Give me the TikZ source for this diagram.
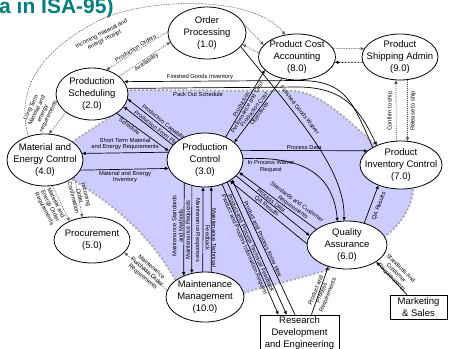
\documentclass[tikz,border=0pt]{standalone}
\usepackage{fontspec}
\setmainfont{Liberation Sans}
\usetikzlibrary{arrows.meta,shapes.geometric}
\pgfdeclarelayer{bg}
\pgfdeclarelayer{mid}
\pgfsetlayers{bg,mid,main}
\definecolor{lav}{RGB}{204,204,255}
\definecolor{teal1}{RGB}{0,128,128}
\begin{document}
\begin{tikzpicture}[x=1pt,y=-1pt,
  ell/.style={ellipse, draw, fill=white, line width=0.8pt, inner sep=0pt},
  etxt/.style={align=center, font=\fontsize{9.5}{12}\selectfont, inner sep=0pt},
  boxn/.style={rectangle, draw, fill=white, line width=0.8pt, inner sep=0pt, align=center, font=\fontsize{9.5}{12}\selectfont},
  lab/.style={font=\fontsize{5.8}{6.5}\selectfont, inner sep=0.6pt, align=center},
  arr/.style={line width=0.7pt, -{Triangle[length=3.5pt,width=3pt]}},
  darr/.style={line width=0.5pt, draw=black!65, dash pattern=on 1.5pt off 1pt, -{Triangle[length=3.5pt,width=3pt]}},
  darrk/.style={line width=0.9pt, draw=black, dash pattern=on 2pt off 1.2pt, -{Triangle[length=3.5pt,width=3pt]}},
  darrd/.style={line width=0.6pt, draw=black!70, dash pattern=on 1pt off 1pt, -{Triangle[length=3.5pt,width=3pt]}},
  border/.style={draw=gray!65, line width=2pt, dash pattern=on 2pt off 2pt}
]
\useasboundingbox (0,0) rectangle (449,348);

% title fragment (cut off by the page edge)
\node[font=\fontsize{21}{21}\selectfont\bfseries, text=teal1, anchor=base west, inner sep=0pt] (title) at (-1,13) {a in ISA-95)};

% nodes
\node[ell, minimum width=78pt, minimum height=52pt] (op) at (207,33) {};
\node[etxt] (opt) at (op.center) {Order\\Processing\\(1.0)};
\node[ell, minimum width=77pt, minimum height=46pt] (pca) at (297,57) {};
\node[etxt] (pcat) at (pca.center) {Product Cost\\Accounting\\(8.0)};
\node[ell, minimum width=76pt, minimum height=46pt] (psa) at (400,57) {};
\node[etxt] (psat) at (psa.center) {Product\\Shipping Admin\\(9.0)};
\node[ell, minimum width=72pt, minimum height=52pt] (sched) at (92,94) {};
\node[etxt] (schedt) at (sched.center) {Production\\Scheduling\\(2.0)};
\node[ell, minimum width=76pt, minimum height=52pt] (mec) at (45,160) {};
\node[etxt] (mect) at (mec.center) {Material and\\Energy Control\\(4.0)};
\node[ell, minimum width=76pt, minimum height=54pt] (pc) at (205,160) {};
\node[etxt] (pct) at (pc.center) {Production\\Control\\(3.0)};
\node[ell, minimum width=82pt, minimum height=48pt] (pic) at (401,165) {};
\node[etxt] (pict) at (pic.center) {Product\\Inventory Control\\(7.0)};
\node[ell, minimum width=76pt, minimum height=46pt] (proc) at (92,240) {};
\node[etxt] (proct) at (proc.center) {Procurement\\(5.0)};
\node[ell, minimum width=80pt, minimum height=48pt] (qa) at (347,245) {};
\node[etxt] (qat) at (qa.center) {Quality\\Assurance\\(6.0)};
\node[ell, minimum width=78pt, minimum height=50pt] (mm) at (205,297) {};
\node[etxt] (mmt) at (mm.center) {Maintenance\\Management\\(10.0)};
\node[boxn, minimum width=79pt, minimum height=36pt] (rd) at (299.5,333) {Research\\Development\\and Engineering};
\node[boxn, minimum width=57pt, minimum height=24pt] (ms) at (418.5,307) {Marketing\\\& Sales};

% shaded production-control domain
\begin{pgfonlayer}{bg}
\path[fill=lav, border] (126,90) -- (295,91) .. controls (330,95) and (360,135) .. (405,170)
  .. controls (425,185) and (405,225) .. (382,238) -- (328,270) -- (243,293) -- (176,281)
  .. controls (150,235) and (115,205) .. (70,178) -- (72,142) -- (118,112) -- cycle;
\end{pgfonlayer}

\begin{pgfonlayer}{mid}
% dashed flows
\draw[darr] (mec.125) .. controls (15,90) and (40,50) .. (100,20) .. controls (140,0) and (250,-8) .. (pca.118);
\draw[darr] (op.178) -- (sched.59) node[lab, sloped, above, midway] {Production Orders};
\draw[darr] (sched.33) -- (op.194) node[lab, sloped, below, midway] {Availability};
\draw[darr] (op.12) -- (pca.160);
\draw[darr] (pca.174) -- (op.-18);
\draw[darr] (pca.13) -- (psa.167);
\draw[darrk] (psa.188) -- (pca.-8);
\draw[darrd] (pic.101) -- (psa.260);
\draw[darrd] (psa.-72) -- (pic.75);
\draw[darr] (sched.215) -- (mec.81);
\draw[darr] (mec.-74) -- (proc.140);
\draw[darr] (mec.-30) -- (proc.113);
\draw[darr] (mm.170) -- (proc.-21);

% solid flows
\draw[arr] (pic.148) .. controls (352,100) and (345,81) .. (300,80.5) -- (sched.21);
\draw[arr] (sched.9) -- (300,87) .. controls (345,88) and (360,110) .. (pic.141);
\draw[arr] (pc.168) -- (mec.10);
\draw[arr] (mec.-16) -- (pc.193);
\draw[arr] (pc.142) -- (sched.-8) node[lab, sloped, above, pos=.34] {Production Capability};
\draw[arr] (pc.155) -- (sched.-22) node[lab, sloped, above, pos=.36] {Production From Plan};
\draw[arr] (sched.-38) -- (pc.166) node[lab, sloped, below, pos=.28] {Schedule};
\draw[arr] (pc.15) -- (pic.157) node[lab, above, midway] {Process Data};
\draw[arr] (pc.2) .. controls (300,156) and (333,172) .. (qa.112);
\draw[arr] (op.-22) .. controls (300,120) and (345,170) .. (qa.97);
\draw[arr] (pc.48) -- (pca.202);
\draw[arr] (pca.235) -- (pc.31);
\draw[arr] (qa.52) -- (pic.222);
\draw[arr] (qa.153) -- (pc.-20) node[lab, sloped, above, pos=.33] {Standards and Customer\\Requirements};
\draw[arr] (pc.-27) -- (qa.166) node[lab, sloped, above, pos=.45] {Process Data};
\draw[arr] (qa.178) -- (pc.-40) node[lab, sloped, above, pos=.55] {QA Results};
\draw[arr] (pc.-132) -- (mm.135);
\draw[arr] (pc.-117) -- (mm.119);
\draw[arr] (mm.95) -- (pc.-94);
\draw[arr] (mm.76) -- (pc.-77);
\draw[arr] (pc.-55) -- (rd.139) node[lab, sloped, below, pos=.45] {Product and Process Information Request};
\draw[arr] (pc.-45) -- (rd.125) node[lab, sloped, below, pos=.45] {Product and Process Technical Feedback};
\draw[arr] (rd.104) -- (pc.-36) node[lab, sloped, above, pos=.55] {Product and Process Know How};
\draw[arr] (rd.57) -- (qa.229);
\draw[arr] (ms.133) -- (qa.-30);
\end{pgfonlayer}

% free-standing labels
\node[lab, rotate=27] (l-inc) at (103,37) {Incoming material and\\energy receipt};
\node[lab, rotate=64] (l-lt) at (40,112) {Long Term\\Material and\\energy\\requirements};
\node[lab, rotate=-63] (l-meo) at (50,206) {Material and\\Energy Order\\Requirements};
\node[lab, rotate=-76] (l-ioc) at (80,196) {Incoming\\Order\\Confirmation};
\node[lab, rotate=-41] (l-mpo) at (147,272) {Maintenance\\Purchase Order\\Requirements};
\node[lab] (l-fgi) at (200,77) {Finished Goods Inventory};
\node[lab] (l-pos) at (198,94) {Pack Out Schedule};
\node[lab] (l-st) at (125,144) {Short Term Material\\and Energy Requirements};
\node[lab] (l-mei) at (125,177) {Material and Energy\\Inventory};
\node[lab, anchor=north] (l-ipw) at (271,159.5) {In Process Waiver\\Request};
\node[lab, rotate=-52] (l-fgw) at (300,110) {Finished Goods Waiver};
\node[lab, rotate=60] (l-ppc) at (244,106) {Production\\Performance and Cost};
\node[lab, rotate=53] (l-pco) at (257,112) {Production Cost\\Objectives};
\node[lab, rotate=69] (l-qar) at (379,206) {QA Results};
\node[lab, rotate=90] (l-conf) at (390,111) {Confirm to ship};
\node[lab, rotate=90] (l-rel) at (413,111) {Release to ship};
\node[lab, rotate=90] (l-msm) at (177.5,226) {Maintenance Standards\\and Methods};
\node[lab, rotate=90] (l-mrq) at (188.3,230) {Maintenance Requests};
\node[lab, rotate=-90] (l-mrs) at (197.6,230) {Maintenance Responses};
\node[lab, rotate=-90] (l-mtf) at (211,238) {Maintenance Technical\\Feedback};
\node[lab, rotate=68] (l-ppr) at (322,293) {Product and\\Process\\Requirements};
\node[lab, rotate=-45] (l-scr) at (396,273) {Standards and\\Customer\\Requirements};
\end{tikzpicture}
\end{document}
